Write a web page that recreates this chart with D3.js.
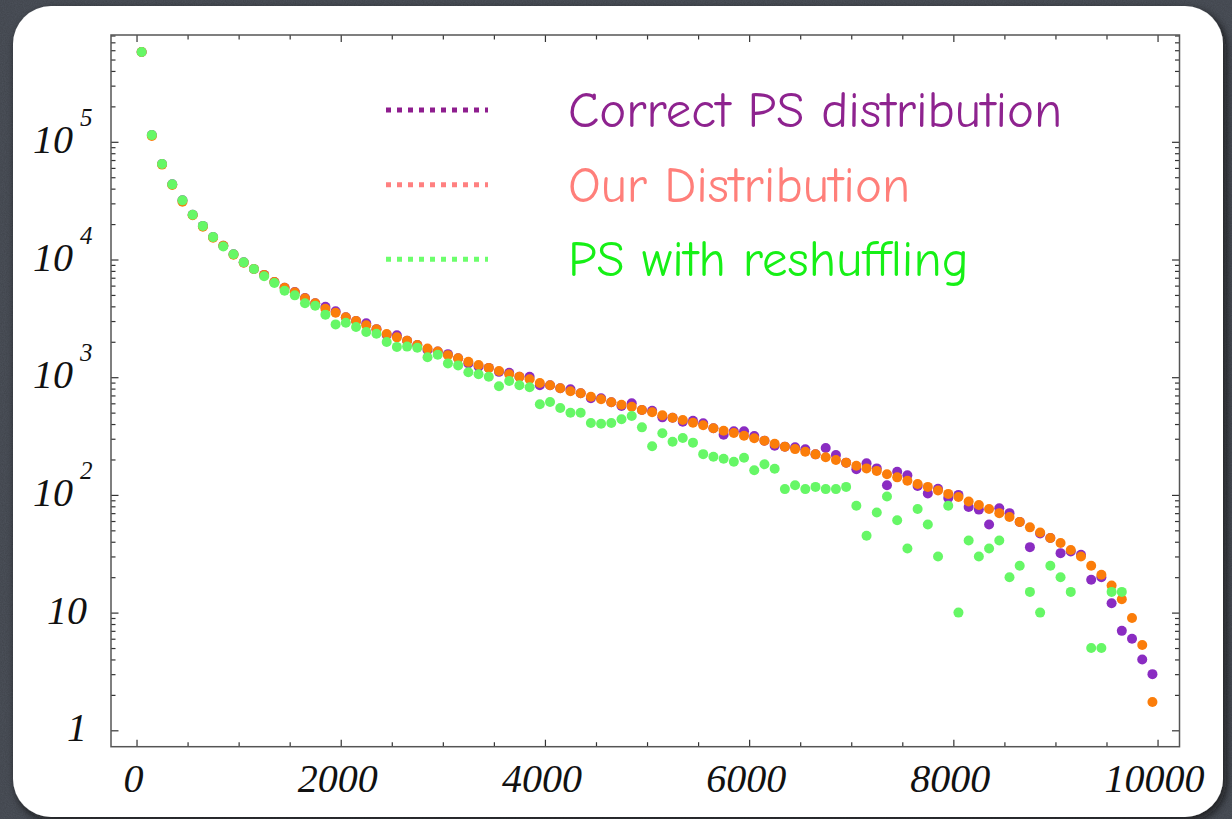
<!DOCTYPE html>
<html>
<head>
<meta charset="utf-8">
<script src="https://cdn.jsdelivr.net/npm/d3@7"></script>
<style>
  html, body { margin: 0; padding: 0; background: #4c5159; overflow: hidden; }
</style>
</head>
<body>
<div id="chart"></div>
<script>
const width = 1232; // Canvas width
const height = 819; // Canvas height

// Bin centres along the x axis
const binCentres = [
  50, 150, 250, 350, 450, 550, 650, 750, 850, 950,
  1050, 1150, 1250, 1350, 1450, 1550, 1650, 1750, 1850, 1950,
  2050, 2150, 2250, 2350, 2450, 2550, 2650, 2750, 2850, 2950,
  3050, 3150, 3250, 3350, 3450, 3550, 3650, 3750, 3850, 3950,
  4050, 4150, 4250, 4350, 4450, 4550, 4650, 4750, 4850, 4950,
  5050, 5150, 5250, 5350, 5450, 5550, 5650, 5750, 5850, 5950,
  6050, 6150, 6250, 6350, 6450, 6550, 6650, 6750, 6850, 6950,
  7050, 7150, 7250, 7350, 7450, 7550, 7650, 7750, 7850, 7950,
  8050, 8150, 8250, 8350, 8450, 8550, 8650, 8750, 8850, 8950,
  9050, 9150, 9250, 9350, 9450, 9550, 9650, 9750, 9850, 9950
];

// Correct PS distribution (purple)
const correctPS = [
  579000, 114000, 64800, 43500, 31800, 24000, 19300, 15500, 13100, 11100,
  9460, 8300, 7400, 6440, 5760, 5300, 4700, 4250, 3970, 3630,
  3230, 3000, 2870, 2560, 2280, 2270, 2040, 1880, 1700, 1650,
  1570, 1450, 1310, 1230, 1200, 1110, 1090, 1010, 1010, 853,
  853, 805, 789, 730, 662, 662, 612, 569, 600, 526,
  519, 456, 453, 419, 427, 406, 368, 325, 347, 347,
  316, 289, 262, 257, 254, 244, 221, 250, 218, 188,
  165, 186, 168, 121, 157, 147, 119, 103, 113, 94,
  100, 79, 75, 56, 77, 70, 59, 36, 47, 43,
  32, 33, 31, 19, 20, 12, 7, 6, 4, 3
];

// Our distribution (orange)
const ourDist = [
  579000, 112000, 64000, 43000, 31000, 23800, 19000, 15300, 13100, 11000,
  9400, 8300, 7380, 6440, 5760, 5260, 4680, 4250, 3820, 3530,
  3230, 3000, 2760, 2550, 2330, 2180, 2040, 1880, 1750, 1650,
  1540, 1450, 1350, 1270, 1200, 1130, 1060, 1010, 960, 893,
  853, 805, 759, 730, 683, 649, 612, 584, 561, 526,
  504, 474, 453, 433, 410, 390, 368, 351, 336, 318,
  303, 289, 272, 257, 245, 233, 221, 209, 198, 188,
  177, 168, 160, 150, 141, 132, 124, 117, 109, 102,
  96, 88, 82, 76, 70, 65, 59, 53, 48, 43,
  39, 34, 30, 25, 21, 17, 13, 9, 5.3, 1.74
];

// PS with reshuffling (green); null = empty bin
const reshuffled = [
  579000, 114000, 64800, 43500, 31800, 24000, 19300, 15500, 12900, 11100,
  9460, 8300, 7200, 6310, 5430, 4960, 4250, 4050, 3400, 2810,
  2900, 2670, 2420, 2340, 1990, 1810, 1820, 1780, 1480, 1550,
  1310, 1260, 1100, 1060, 1010, 837, 929, 853, 821, 589,
  615, 547, 499, 499, 408, 403, 408, 439, 468, 375,
  259, 334, 283, 304, 278, 222, 211, 203, 191, 207,
  162, 182, 167, 112, 121, 112, 117, 112, 112, 117,
  81, 45, 71, 97, 61, 35, 76, 56, 30, 81,
  10, 41, 30, 35, 41, 20, 25, 15, 10, 25,
  20, 15, null, 5, 5, 15, 15, null, null, null
];

const seriesNames = ["Correct PS distribution", "Our Distribution", "PS with reshuffling"];
const pointColors = ["#8a2cc2", "#fb7d0a", "#66f766"];
const legendLineColors = ["#8e1d8e", "#ff8080", "#6cff6c"];
const legendTextColors = ["#8e238f", "#ff7f7a", "#16f016"];

const xMajor = [0, 2000, 4000, 6000, 8000, 10000];
const yMajor = [1, 10, 100, 1000, 10000, 100000];

// Scales
const frame = { left: 111, right: 1179.5, top: 35, bottom: 746.7 };
const xScale = d3.scaleLinear()
    .domain([-250, 10215])
    .range([frame.left, frame.right]);
const yScale = d3.scaleLog()
    .domain([0.7257, 808000])
    .range([frame.bottom, frame.top]);

const xMinor = d3.range(0, 10001, 500).filter(d => !xMajor.includes(d));
const yMinor = [];
yMajor.forEach(p => { for (let m = 2; m <= 9; m++) if (m * p < yScale.domain()[1]) yMinor.push(m * p); });

const svg = d3.select("#chart")
    .append("svg")
    .attr("width", width)
    .attr("height", height);

// Background texture + panel shadow
const defs = svg.append("defs");
const noise = defs.append("filter").attr("id", "noise");
noise.append("feTurbulence").attr("type", "fractalNoise").attr("baseFrequency", 0.9).attr("numOctaves", 2).attr("result", "t");
noise.append("feColorMatrix").attr("type", "matrix")
    .attr("values", "0 0 0 0 0  0 0 0 0 0  0 0 0 0 0  0 0 0 0.18 0");
const shadow = defs.append("filter").attr("id", "shadow").attr("x", "-5%").attr("y", "-5%").attr("width", "110%").attr("height", "110%");
shadow.append("feDropShadow").attr("dx", 3).attr("dy", 4).attr("stdDeviation", 4).attr("flood-color", "#111").attr("flood-opacity", 0.8);

svg.append("rect").attr("width", width).attr("height", height).attr("fill", "#4d525b");
svg.append("rect").attr("width", width).attr("height", height).attr("filter", "url(#noise)");

svg.append("rect")
    .attr("x", 13).attr("y", 6)
    .attr("width", 1210).attr("height", 811)
    .attr("rx", 38).attr("ry", 38)
    .attr("fill", "#ffffff")
    .attr("filter", "url(#shadow)");

// Tick marks on all four sides, pointing inward
function ticks(axisFn, values, size, transform) {
    svg.append("g")
        .attr("transform", transform)
        .call(axisFn.tickValues(values).tickSizeInner(size).tickSizeOuter(0).tickFormat(""))
        .call(g => g.select(".domain").remove())
        .call(g => g.selectAll("line").attr("stroke", "#333").attr("stroke-width", 1.2));
}
ticks(d3.axisBottom(xScale), xMajor, -7, `translate(0,${frame.bottom})`);
ticks(d3.axisBottom(xScale), xMinor, -4.5, `translate(0,${frame.bottom})`);
ticks(d3.axisTop(xScale), xMajor, -7, `translate(0,${frame.top})`);
ticks(d3.axisTop(xScale), xMinor, -4.5, `translate(0,${frame.top})`);
ticks(d3.axisLeft(yScale), yMajor, -7.5, `translate(${frame.left},0)`);
ticks(d3.axisLeft(yScale), yMinor, -4.5, `translate(${frame.left},0)`);
ticks(d3.axisRight(yScale), yMajor, -7.5, `translate(${frame.right},0)`);
ticks(d3.axisRight(yScale), yMinor, -4.5, `translate(${frame.right},0)`);

// Frame
svg.append("rect")
    .attr("x", frame.left).attr("y", frame.top)
    .attr("width", frame.right - frame.left)
    .attr("height", frame.bottom - frame.top)
    .attr("fill", "none")
    .attr("stroke", "#555")
    .attr("stroke-width", 1.5);

// Tick labels
const labelFont = "'Liberation Serif', 'Times New Roman', serif";
svg.append("g")
    .selectAll("text")
    .data(xMajor)
    .join("text")
    .attr("x", d => xScale(d) - 3)
    .attr("y", 792)
    .attr("text-anchor", "middle")
    .attr("font-family", labelFont)
    .attr("font-style", "italic")
    .attr("font-size", 40)
    .attr("fill", "#111")
    .text(d => d);

const yLabels = svg.append("g")
    .selectAll("g")
    .data(yMajor)
    .join("g")
    .attr("font-family", labelFont)
    .attr("font-style", "italic")
    .attr("fill", "#111");
yLabels.append("text")
    .attr("x", d => d < 100 ? 87 : 73)
    .attr("y", d => yScale(d) + 11)
    .attr("text-anchor", "end")
    .attr("font-size", 40)
    .text(d => d < 100 ? d : "10");
yLabels.filter(d => d >= 100)
    .append("text")
    .attr("x", 80)
    .attr("y", d => yScale(d) - 16)
    .attr("font-size", 25)
    .text(d => Math.round(Math.log10(d)));

// Points
const allSeries = [correctPS, ourDist, reshuffled];
allSeries.forEach((vals, si) => {
    const pts = binCentres.map((x, i) => ({ x, y: vals[i] })).filter(d => d.y != null);
    svg.append("g")
        .selectAll("circle")
        .data(pts)
        .join("circle")
        .attr("cx", d => xScale(d.x))
        .attr("cy", d => yScale(d.y))
        .attr("r", 5)
        .attr("fill", pointColors[si]);
});

// Legend
const legendY = [110, 184.7, 259.3];
const legend = svg.append("g")
    .selectAll("g")
    .data(seriesNames)
    .join("g")
    .attr("transform", (d, i) => `translate(0,${legendY[i]})`);
legend.append("line")
    .attr("x1", 386).attr("x2", 488)
    .attr("stroke", (d, i) => legendLineColors[i])
    .attr("stroke-width", 5)
    .attr("stroke-dasharray", "5,6");
legend.append("text")
    .attr("x", 568)
    .attr("y", 17)
    .attr("font-family", "'Comic Sans MS', 'Comic Neue', 'Open Sans', sans-serif")
    .attr("font-size", 51)
    .attr("fill", (d, i) => legendTextColors[i])
    .text(d => d);
</script>
</body>
</html>
